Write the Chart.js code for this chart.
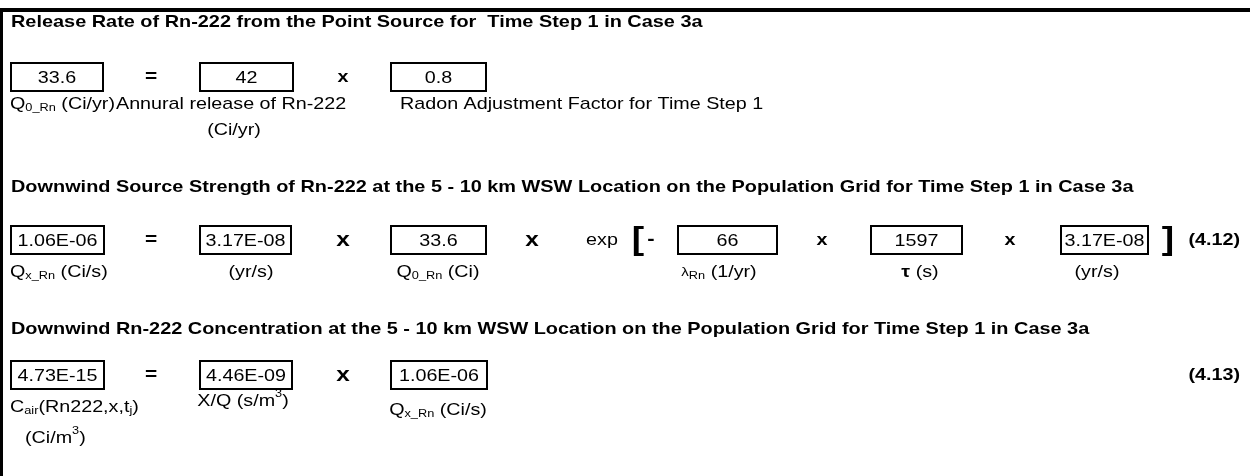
<!DOCTYPE html>
<html><head><meta charset="utf-8">
<script src="https://cdn.jsdelivr.net/npm/chart.js@4/dist/chart.umd.min.js"></script>
<style>html,body{margin:0;padding:0;background:#fff;}#wrap{width:1250px;height:476px;position:relative;}</style>
</head><body><div id="wrap"><canvas id="c" width="1250" height="476"></canvas></div>
<script>
// ---- data (text content of the worksheet) ----
const sectionTitles = [
  'Release Rate of Rn-222 from the Point Source for  Time Step 1 in Case 3a',
  'Downwind Source Strength of Rn-222 at the 5 - 10 km WSW Location on the Population Grid for Time Step 1 in Case 3a',
  'Downwind Rn-222 Concentration at the 5 - 10 km WSW Location on the Population Grid for Time Step 1 in Case 3a'
];
const releaseValues = ['33.6', '42', '0.8'];
const sourceValues = ['1.06E-06', '3.17E-08', '33.6', '66', '1597', '3.17E-08'];
const concValues = ['4.73E-15', '4.46E-09', '1.06E-06'];
const equationNumbers = ['(4.12)', '(4.13)'];
const releaseLabels = ['Q_{0_Rn} (Ci/yr)', 'Annural release of Rn-222', '(Ci/yr)', 'Radon Adjustment Factor for Time Step 1'];
const sourceLabels = ['Q_{x_Rn} (Ci/s)', '(yr/s)', 'Q_{0_Rn} (Ci)', 'λ_{Rn} (1/yr)', 'τ (s)', '(yr/s)'];
const concLabels = ['C_{air}(Rn222,x,t_{j})', 'X/Q (s/m^{3})', 'Q_{x_Rn} (Ci/s)', '(Ci/m^{3})'];

// ---- layout (positions in scale units) ----
const FONT = '"Liberation Sans", Arial, sans-serif';
const FS = 17, STRETCH = 1.16, TITLE_STRETCH = 1.17;
const layout = {
  titles: [{x: 11, y: 22}, {x: 11, y: 187}, {x: 11, y: 329}],
  rows: [
    { values: releaseValues, cy: 77, boxes: [[10, 104], [199, 294], [390, 487]],
      ops: [['=', 151, 'bold 18px'], ['x', 343, 'bold 17px']],
      labels: [
        {i: 0, x: 10, y: 104, align: 'left'},
        {i: 1, x: 116, y: 104, align: 'left'},
        {i: 2, x: 234, y: 130, align: 'center'},
        {i: 3, x: 400, y: 104, align: 'left'}
      ], labelSrc: releaseLabels },
    { values: sourceValues, cy: 240,
      boxes: [[10, 105], [199, 292], [390, 487], [677, 778], [870, 963], [1060, 1149]],
      ops: [['=', 151, 'bold 18px'], ['x', 343, 'bold 21px'], ['x', 532, 'bold 21px'],
            ['exp', 602, '17px'], ['[', 638, 'bold 32px'], ['-', 651, 'bold 19px'],
            ['x', 822, 'bold 17px'], ['x', 1010, 'bold 17px'], [']', 1168, 'bold 32px']],
      labels: [
        {i: 0, x: 10, y: 272, align: 'left'},
        {i: 1, x: 251, y: 272, align: 'center'},
        {i: 2, x: 438, y: 272, align: 'center'},
        {i: 3, x: 719, y: 272, align: 'center', first: 13},
        {i: 4, x: 920, y: 272, align: 'center', firstBold: true},
        {i: 5, x: 1097, y: 272, align: 'center'}
      ], labelSrc: sourceLabels, eq: 0 },
    { values: concValues, cy: 375, boxes: [[10, 105], [199, 293], [390, 488]],
      ops: [['=', 151, 'bold 18px'], ['x', 343, 'bold 21px']],
      labels: [
        {i: 0, x: 10, y: 407, align: 'left'},
        {i: 1, x: 243, y: 401, align: 'center'},
        {i: 2, x: 438, y: 410, align: 'center'},
        {i: 3, x: 25, y: 438, align: 'left'}
      ], labelSrc: concLabels, eq: 1 }
  ],
  boxHalfH: 15,
  eqRight: 1240
};

function stretchedText(ctx, t, x, y, align, k) {
  k = k || STRETCH;
  const w = ctx.measureText(t).width * k;
  const left = align === 'center' ? x - w / 2 : align === 'right' ? x - w : x;
  ctx.save(); ctx.translate(left, y); ctx.scale(k, 1);
  ctx.textAlign = 'left'; ctx.textBaseline = 'middle';
  ctx.fillText(t, 0, 0); ctx.restore();
  return w;
}

function parseRich(s) {
  const segs = []; const re = /([_^])\{([^}]*)\}/g; let last = 0, m;
  while ((m = re.exec(s))) {
    if (m.index > last) segs.push({t: s.slice(last, m.index), k: 'n'});
    segs.push({t: m[2], k: m[1] === '_' ? 'sub' : 'sup'});
    last = re.lastIndex;
  }
  if (last < s.length) segs.push({t: s.slice(last), k: 'n'});
  return segs;
}

function drawRich(ctx, s, x, y, align, opt) {
  const size = FS, small = 11;
  const pieces = [];
  parseRich(s).forEach((sg, idx) => {
    const font = (sg.k === 'n' ? size : small) + 'px ' + FONT;
    const dy = sg.k === 'sub' ? 4 : sg.k === 'sup' ? -7 : 0;
    if (idx === 0 && sg.k === 'n' && (opt.first || opt.firstBold)) {
      pieces.push({t: sg.t[0], font: (opt.firstBold ? 'bold ' : '') + (opt.first || size) + 'px ' + FONT, dy: 0});
      if (sg.t.length > 1) pieces.push({t: sg.t.slice(1), font, dy});
      return;
    }
    pieces.push({t: sg.t, font, dy});
  });
  let w = 0;
  pieces.forEach(p => { ctx.font = p.font; p.w = ctx.measureText(p.t).width * STRETCH; w += p.w; });
  let cx = align === 'center' ? x - w / 2 : x;
  pieces.forEach(p => { ctx.font = p.font; stretchedText(ctx, p.t, cx, y + p.dy, 'left'); cx += p.w; });
}

const sheetPlugin = {
  id: 'sheet',
  afterDraw(chart) {
    const ctx = chart.ctx, sx = chart.scales.x, sy = chart.scales.y;
    const X = v => sx.getPixelForValue(v), Y = v => sy.getPixelForValue(v);
    ctx.save();
    ctx.fillStyle = '#000';
    // frame
    ctx.fillRect(X(0), Y(8), X(1250) - X(0), Y(12) - Y(8));
    ctx.fillRect(X(0), Y(8), X(3) - X(0), Y(476) - Y(8));
    // titles
    ctx.font = 'bold ' + FS + 'px ' + FONT;
    sectionTitles.forEach((t, i) => stretchedText(ctx, t, X(layout.titles[i].x), Y(layout.titles[i].y), 'left', TITLE_STRETCH));
    layout.rows.forEach(row => {
      const top = Y(row.cy - layout.boxHalfH), bot = Y(row.cy + layout.boxHalfH);
      row.boxes.forEach((b, i) => {
        const l = X(b[0]), r = X(b[1]);
        ctx.fillStyle = '#000';
        ctx.fillRect(l, top, r - l, 2);
        ctx.fillRect(l, top, 2, bot - top);
        ctx.fillRect(r - 2, top, 2, bot - top);
        ctx.fillRect(l, bot - 2, r - l, 2);
        ctx.font = FS + 'px ' + FONT;
        stretchedText(ctx, row.values[i], (l + r) / 2, Y(row.cy) + 1, 'center');
      });
      row.ops.forEach(o => {
        ctx.font = o[2] + ' ' + FONT;
        stretchedText(ctx, o[0], X(o[1]), Y(row.cy), 'center');
      });
      row.labels.forEach(lb => drawRich(ctx, row.labelSrc[lb.i], X(lb.x), Y(lb.y), lb.align, lb));
      if (row.eq !== undefined) {
        ctx.font = 'bold ' + FS + 'px ' + FONT;
        stretchedText(ctx, equationNumbers[row.eq], X(layout.eqRight), Y(row.cy), 'right');
      }
    });
    ctx.restore();
  }
};

new Chart(document.getElementById('c'), {
  type: 'scatter',
  data: { datasets: [{ data: [], pointRadius: 0 }] },
  options: {
    responsive: false, animation: false, devicePixelRatio: 1,
    layout: { padding: 0 },
    plugins: { legend: { display: false }, tooltip: { enabled: false } },
    scales: {
      x: { type: 'linear', min: 0, max: 1250, display: false },
      y: { type: 'linear', min: 0, max: 476, reverse: true, display: false }
    }
  },
  plugins: [sheetPlugin]
});
</script></body></html>
